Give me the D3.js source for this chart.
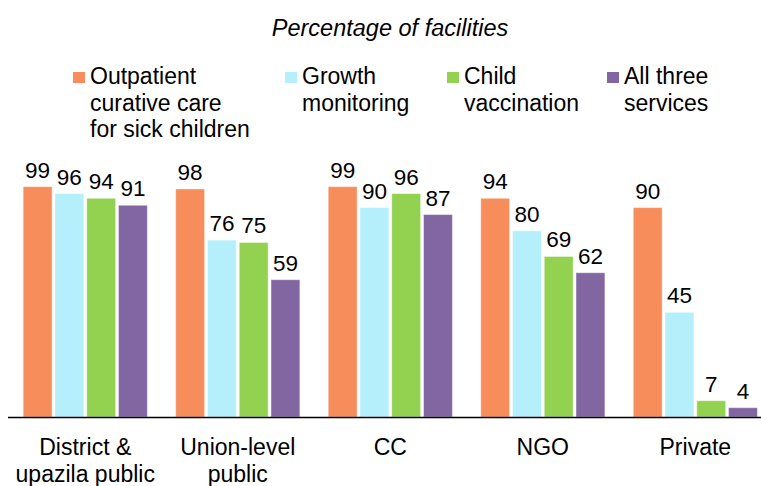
<!DOCTYPE html>
<html>
<head>
<meta charset="utf-8">
<script src="https://cdn.jsdelivr.net/npm/d3@7"></script>
<style>
  body { margin: 0; background: #fff; }
  svg { display: block; font-family: "Liberation Sans", Arial, sans-serif; }
</style>
</head>
<body>
<div id="chart"></div>
<script>
// --- datos ---
const groups = ["District & upazila public", "Union-level public", "CC", "NGO", "Private"];
const groupLines = [["District &", "upazila public"], ["Union-level", "public"], ["CC"], ["NGO"], ["Private"]];
const seriesNames = ["Outpatient curative care for sick children", "Growth monitoring", "Child vaccination", "All three services"];
const legendLines = [["Outpatient", "curative care", "for sick children"], ["Growth", "monitoring"], ["Child", "vaccination"], ["All three", "services"]];
const colors = ["#F68D5B", "#B5EFFC", "#93D150", "#8166A2"];
const outpatient = [99, 98, 99, 94, 90];
const growth = [96, 76, 90, 80, 45];
const vaccination = [94, 75, 96, 69, 7];
const allThree = [91, 59, 87, 62, 4];
const values = [outpatient, growth, vaccination, allThree];
const title = "Percentage of facilities";

const width = 761, height = 486;
const baseY = 417;

const svg = d3.select("#chart").append("svg")
  .attr("width", width)
  .attr("height", height);

const x0 = d3.scaleBand()
  .domain(groups)
  .range([9, 771.6])
  .paddingInner(0.167)
  .paddingOuter(0.0835);

const x1 = d3.scaleBand()
  .domain(seriesNames)
  .range([0, x0.bandwidth()])
  .paddingInner(0.09)
  .paddingOuter(0.045);

const y = d3.scaleLinear().domain([0, 100]).range([baseY, 184.3]);

// titulo
svg.append("text")
  .attr("x", 390)
  .attr("y", 36)
  .attr("text-anchor", "middle")
  .attr("font-style", "italic")
  .attr("font-size", 23.5)
  .text(title);

// leyenda
const legendX = [73, 285, 447, 607];
const leg = svg.append("g").attr("class", "legend")
  .selectAll("g")
  .data(seriesNames)
  .join("g")
  .attr("transform", (d, i) => `translate(${legendX[i]},0)`);

leg.append("rect")
  .attr("x", 0).attr("y", 72)
  .attr("width", 12).attr("height", 11)
  .attr("fill", (d, i) => colors[i]);

leg.append("text")
  .attr("y", 84)
  .attr("font-size", 23)
  .selectAll("tspan")
  .data((d, i) => legendLines[i])
  .join("tspan")
  .attr("x", 17)
  .attr("dy", (d, j) => j === 0 ? 0 : 26.7)
  .text(d => d);

// barras
const rows = groups.flatMap((g, gi) => seriesNames.map((s, si) => ({ g, s, si, v: values[si][gi] })));

const bars = svg.append("g").attr("class", "bars");
bars.selectAll("rect")
  .data(rows)
  .join("rect")
  .attr("x", d => x0(d.g) + x1(d.s))
  .attr("y", d => y(d.v))
  .attr("width", x1.bandwidth())
  .attr("height", d => baseY - y(d.v))
  .attr("fill", d => colors[d.si])
  .attr("stroke", "#ffffff")
  .attr("stroke-opacity", 0.45)
  .attr("stroke-width", 1);

bars.selectAll("text")
  .data(rows)
  .join("text")
  .attr("x", d => x0(d.g) + x1(d.s) + x1.bandwidth() / 2)
  .attr("y", d => y(d.v) - 9)
  .attr("text-anchor", "middle")
  .attr("font-size", 22.5)
  .text(d => d.v);

// eje
svg.append("line")
  .attr("x1", 8).attr("x2", width)
  .attr("y1", baseY + 0.5).attr("y2", baseY + 0.5)
  .attr("stroke", "#000")
  .attr("stroke-width", 1.5);

// etiquetas de categoria
svg.append("g")
  .selectAll("text")
  .data(groups)
  .join("text")
  .attr("x", d => x0(d) + x0.bandwidth() / 2)
  .attr("y", 455)
  .attr("text-anchor", "middle")
  .attr("font-size", 23)
  .selectAll("tspan")
  .data((d, i) => groupLines[i])
  .join("tspan")
  .attr("x", function () { return d3.select(this.parentNode).attr("x"); })
  .attr("dy", (d, j) => j === 0 ? 0 : 27)
  .text(d => d);
</script>
</body>
</html>
